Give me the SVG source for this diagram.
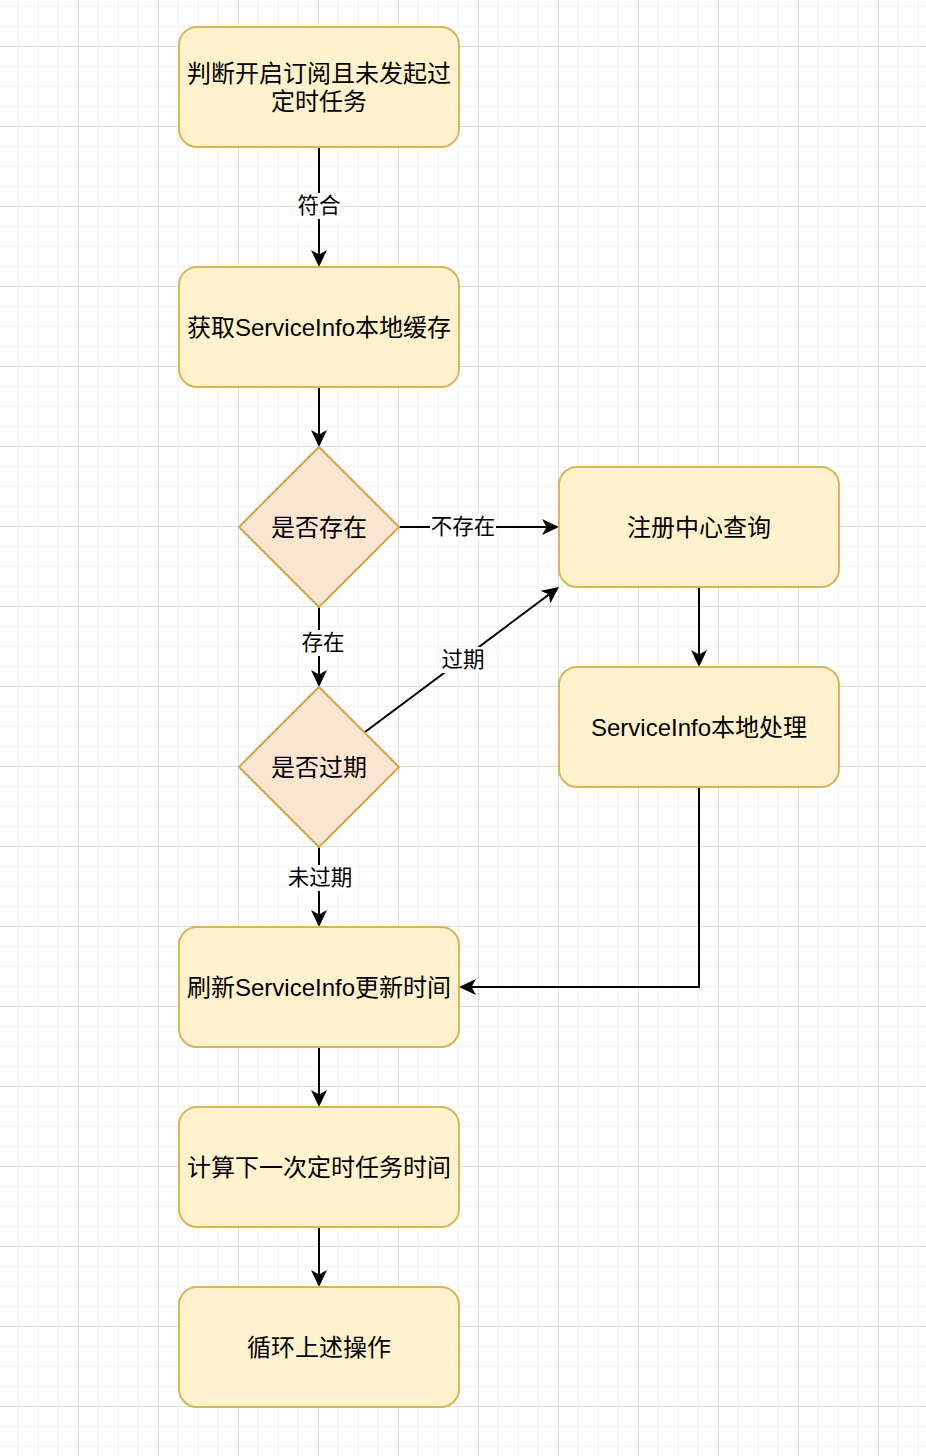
<svg xmlns="http://www.w3.org/2000/svg" width="926" height="1456" viewBox="0 0 926 1456">
<style>
.box{fill:#fff2cc;stroke:#d6b656;stroke-width:2}
.dia{fill:#fae6d0;stroke:#d4a44c;stroke-width:2}
.t{font-family:"Liberation Sans","Noto Sans CJK SC",sans-serif;font-size:24px;fill:#000;text-anchor:middle;dominant-baseline:central}
.el{font-family:"Liberation Sans","Noto Sans CJK SC",sans-serif;font-size:21.5px;fill:#000;text-anchor:middle;dominant-baseline:central}
.edge{fill:none;stroke:#000;stroke-width:2}
.lblbg{fill:#fff}
</style>
<defs>
<pattern id="minor" width="20" height="20" patternUnits="userSpaceOnUse" x="-2" y="6">
<path d="M0,0.5 H20 M0.5,0 V20" stroke="#f2f2f2" stroke-width="1" fill="none"/>
</pattern>
<pattern id="major" width="80" height="80" patternUnits="userSpaceOnUse" x="-2" y="46">
<path d="M0,0.5 H80 M0.5,0 V80" stroke="#dcdcdc" stroke-width="1" fill="none"/>
</pattern>
<marker id="arr" markerUnits="userSpaceOnUse" markerWidth="18" markerHeight="16" viewBox="0 0 18 16" refX="13" refY="8" orient="auto">
<path d="M17,8 L0,0 L4.5,8 L0,16 Z" fill="#000"/>
</marker>
</defs>
<rect width="926" height="1456" fill="#fff"/>
<rect width="926" height="1456" fill="url(#minor)"/>
<rect width="926" height="1456" fill="url(#major)"/>

<g id="connectors">
<path class="edge" d="M319,147 V263" marker-end="url(#arr)"/>
<rect class="lblbg" x="296" y="193" width="46" height="26"/>
<text class="el" x="319" y="206">符合</text>
<path class="edge" d="M319,387 V443" marker-end="url(#arr)"/>
<path class="edge" d="M399,527 H555" marker-end="url(#arr)"/>
<rect class="lblbg" x="430" y="514" width="66" height="26"/>
<text class="el" x="463" y="527">不存在</text>
<path class="edge" d="M319,607 V683" marker-end="url(#arr)"/>
<rect class="lblbg" x="300" y="630" width="46" height="26"/>
<text class="el" x="323" y="643">存在</text>
<path class="edge" d="M365,732 L555.8,589.4" marker-end="url(#arr)"/>
<rect class="lblbg" x="440" y="647" width="46" height="26"/>
<text class="el" x="463" y="660">过期</text>
<path class="edge" d="M699,587 V663" marker-end="url(#arr)"/>
<path class="edge" d="M699,787 V987 H463" marker-end="url(#arr)"/>
<path class="edge" d="M319,847 V923" marker-end="url(#arr)"/>
<rect class="lblbg" x="287" y="865" width="66" height="26"/>
<text class="el" x="320" y="878">未过期</text>
<path class="edge" d="M319,1047 V1103" marker-end="url(#arr)"/>
<path class="edge" d="M319,1227 V1283" marker-end="url(#arr)"/>
</g>

<g id="n1">
<rect class="box" x="179" y="27" width="280" height="120" rx="18"/>
<text class="t" x="319" y="73">判断开启订阅且未发起过</text>
<text class="t" x="319" y="101">定时任务</text>
</g>
<g id="n2">
<rect class="box" x="179" y="267" width="280" height="120" rx="18"/>
<text class="t" x="319" y="327">获取ServiceInfo本地缓存</text>
</g>
<g id="d1">
<path class="dia" d="M319,447 L399,527 L319,607 L239,527 Z"/>
<text class="t" x="319" y="527">是否存在</text>
</g>
<g id="n3">
<rect class="box" x="559" y="467" width="280" height="120" rx="18"/>
<text class="t" x="699" y="527">注册中心查询</text>
</g>
<g id="d2">
<path class="dia" d="M319,687 L399,767 L319,847 L239,767 Z"/>
<text class="t" x="319" y="767">是否过期</text>
</g>
<g id="n4">
<rect class="box" x="559" y="667" width="280" height="120" rx="18"/>
<text class="t" x="699" y="727">ServiceInfo本地处理</text>
</g>
<g id="n5">
<rect class="box" x="179" y="927" width="280" height="120" rx="18"/>
<text class="t" x="319" y="987">刷新ServiceInfo更新时间</text>
</g>
<g id="n6">
<rect class="box" x="179" y="1107" width="280" height="120" rx="18"/>
<text class="t" x="319" y="1167">计算下一次定时任务时间</text>
</g>
<g id="n7">
<rect class="box" x="179" y="1287" width="280" height="120" rx="18"/>
<text class="t" x="319" y="1347">循环上述操作</text>
</g>
</svg>
